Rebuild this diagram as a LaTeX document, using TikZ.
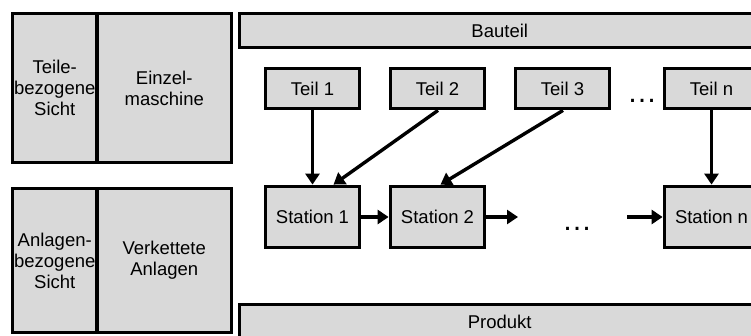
\documentclass[tikz,border=0pt]{standalone}
\usepackage{fontspec}
\setmainfont{Liberation Sans}
\usetikzlibrary{arrows.meta}
\definecolor{boxgray}{RGB}{217,217,217}
\begin{document}
\begin{tikzpicture}[x=1pt,y=-1pt,
  box/.style={draw=black, fill=boxgray, line width=3.8pt, rectangle, inner sep=0pt,
    align=center, font=\fontsize{18.5}{21}\selectfont},
  teilbox/.style={box, minimum width=94, minimum height=40},
  stationbox/.style={box, minimum width=94, minimum height=61},
  flow/.style={line width=3.4pt, -{Triangle[length=11pt,width=14pt]}},
  dotstext/.style={inner sep=0pt, anchor=base, font=\fontsize{30}{30}\selectfont}]
\useasboundingbox (0,0) rectangle (751,336);
\clip (0,0) rectangle (751,336);

% left column: views
\node[box, minimum width=84.5, minimum height=149] (tl) at (54.75,88) {Teile-\\bezogene\\Sicht};
\node[box, minimum width=134.5, minimum height=149] (tr) at (164.25,88) {Einzel-\\maschine};
\node[box, minimum width=84.5, minimum height=144] (bl) at (54.75,260.5) {Anlagen-\\bezogene\\Sicht};
\node[box, minimum width=134.5, minimum height=144] (br) at (164.25,260.5) {Verkettete\\Anlagen};

% top and bottom bars
\node[box, minimum width=520.5, minimum height=34] (bauteil) at (499.75,30.5) {Bauteil};
\node[box, minimum width=520.5, minimum height=35] (produkt) at (499.75,322) {Produkt};

% parts
\node[teilbox] (t1) at (312.5,88.5) {Teil 1};
\node[teilbox] (t2) at (437.5,88.5) {Teil 2};
\node[teilbox] (t3) at (562.5,88.5) {Teil 3};
\node[teilbox] (tn) at (711.5,88.5) {Teil n};
\node[dotstext] (tdots) at (642,103) {…};

% stations
\node[stationbox] (s1) at (312.5,217) {Station 1};
\node[stationbox] (s2) at (437.5,217) {Station 2};
\node[stationbox] (sn) at (711.5,217) {Station n};
\node[dotstext] (sdots) at (577,231) {…};

\coordinate (s2out) at (518,217);
\coordinate (snin) at (627,217);

% material flow
\draw[flow] (t1.south) -- (s1.north);
\draw[flow] ([xshift=0.5pt]t2.south) -- ([xshift=21pt]s1.north);
\draw[flow] ([xshift=0.5pt]t3.south) -- ([xshift=3pt]s2.north);
\draw[flow] (tn.south) -- (sn.north);
\draw[flow] (s1.east) -- (s2.west);
\draw[flow] (s2.east) -- (s2out);
\draw[flow] (snin) -- (sn.west);
\end{tikzpicture}
\end{document}
